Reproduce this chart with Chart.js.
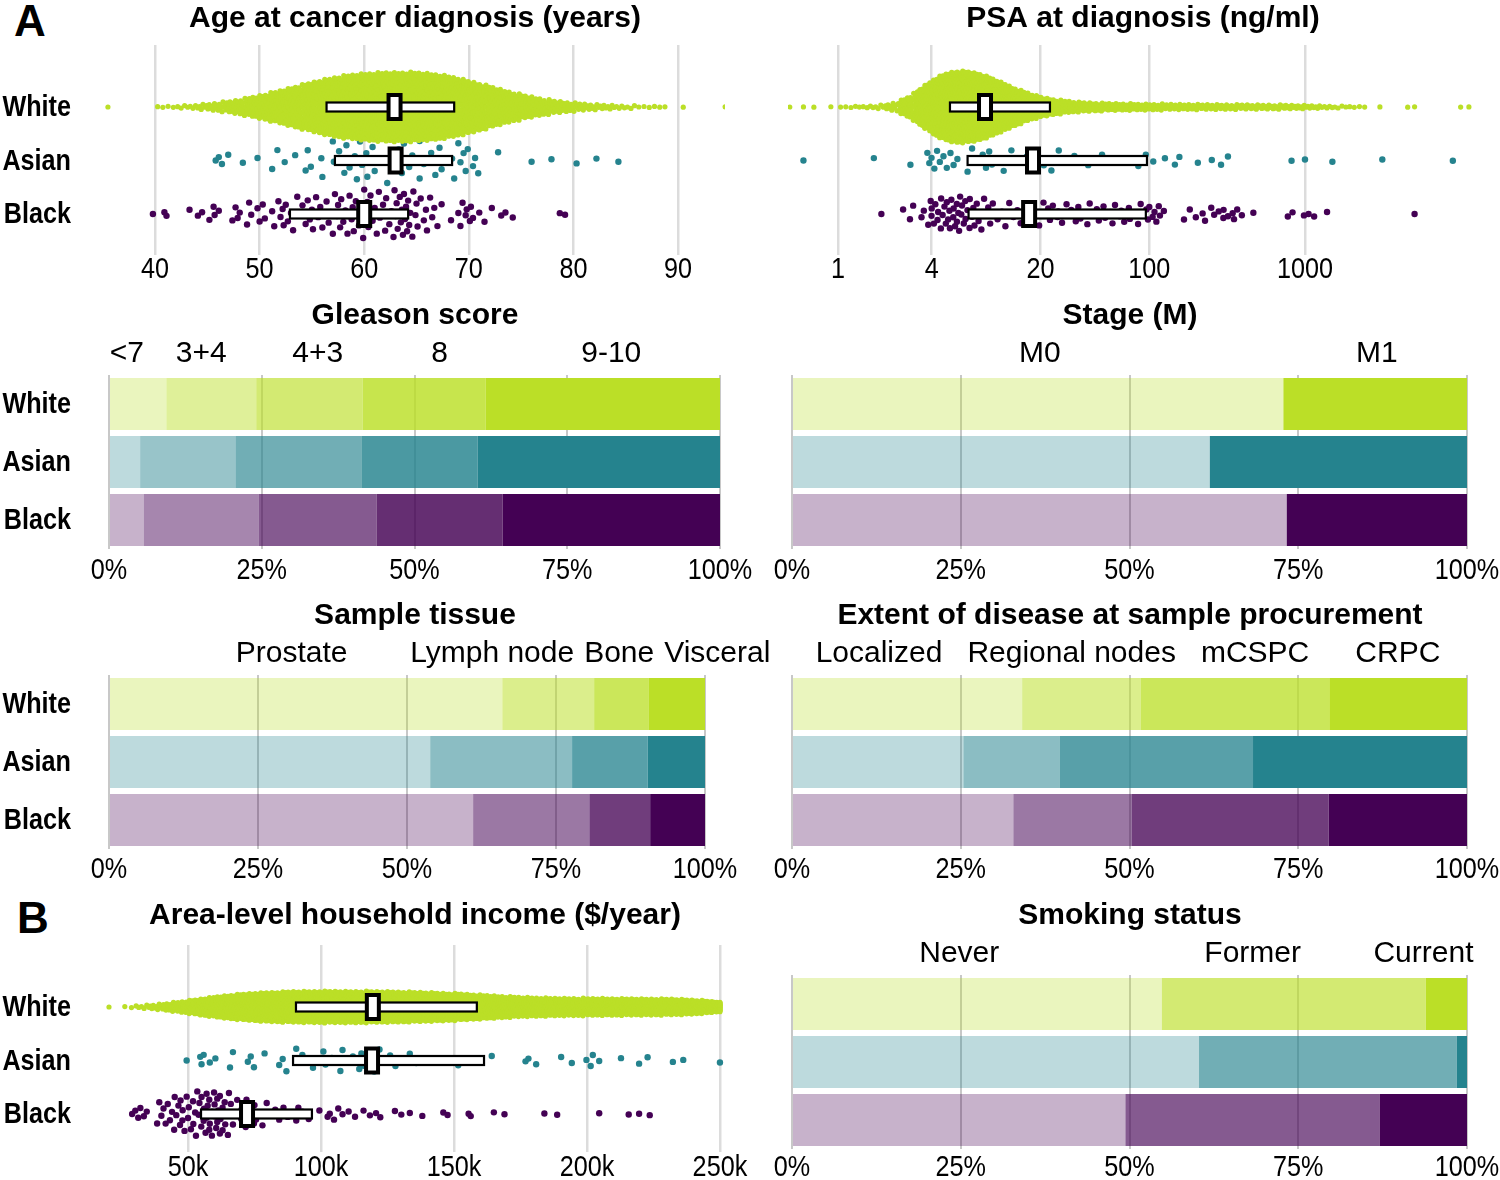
<!DOCTYPE html>
<html>
<head>
<meta charset="utf-8">
<script src="https://cdn.jsdelivr.net/npm/chart.js@4.4.1/dist/chart.umd.min.js"></script>
<style>
  body { margin: 0; background: #fff; }
  #page { position: relative; width: 1500px; height: 1180px; overflow: hidden; background: #fff; }
  canvas { position: absolute; }
  .tag { position: absolute; font-family: "Liberation Sans", Arial, sans-serif; font-weight: bold; font-size: 44px; line-height: 1; }
</style>
</head>
<body>
<div id="page">
  <div class="tag" style="left:14px;top:-1px">A</div>
  <div class="tag" style="left:17px;top:896px">B</div>
  <canvas id="age"></canvas>
  <canvas id="psa"></canvas>
  <canvas id="gleason"></canvas>
  <canvas id="stage"></canvas>
  <canvas id="tissue"></canvas>
  <canvas id="extent"></canvas>
  <canvas id="income"></canvas>
  <canvas id="smoking"></canvas>
</div>
<script>
const groups = ["White", "Asian", "Black"];
const groupColors = [[187, 223, 39], [37, 131, 142], [68, 1, 84]];

// ---- age at diagnosis (years) ----
const ageTicks = [40, 50, 60, 70, 80, 90];
const ageWhiteStart = 35, ageWhiteStep = 1; // counts per 1-year bin, 35..94
const ageWhiteCounts = [1, 0, 0, 0, 0, 2, 2, 3, 4, 6, 8, 11, 15, 19, 24, 30, 36, 42, 48, 55,
  62, 68, 72, 76, 78, 80, 81, 82, 82, 82, 81, 79, 76, 72, 66, 59, 52, 45, 38, 32,
  26, 21, 17, 14, 11, 9, 7, 6, 5, 4, 3, 2, 2, 2, 0, 1, 0, 0, 0, 1];
const ageAsian = [45.8, 46.1, 46.4, 47.0, 48.4, 49.8, 51.2, 51.7, 52.4, 53.4, 54.4, 54.6, 54.9, 55.9, 56.0,
  57.0, 57.1, 57.6, 58.1, 58.3, 58.6, 59.1, 59.3, 59.6, 59.8, 60.2, 60.3, 60.8, 61.0, 61.5, 62.2, 62.8,
  63.0, 63.3, 63.6, 63.8, 64.3, 64.6, 65.3, 65.3, 65.7, 66.4, 66.8, 67.2, 67.4, 68.4, 68.6, 69.0, 69.2,
  69.5, 69.7, 69.9, 70.4, 70.6, 70.9, 72.8, 76.0, 77.9, 80.3, 82.2, 84.3];
const ageBlack = [39.8, 40.9, 41.1, 43.3, 44.1, 44.5, 45.2, 45.6, 45.7, 46.1, 47.4, 47.7, 47.9, 48.1, 48.8,
  49.0, 49.2, 49.8, 50.0, 50.3, 50.5, 51.2, 51.4, 51.8, 52.0, 52.2, 52.3, 52.5, 52.7, 53.0, 53.2, 53.6,
  53.9, 54.1, 54.4, 54.6, 54.8, 55.0, 55.1, 55.4, 55.6, 55.8, 56.0, 56.4, 56.6, 56.8, 57.0, 57.2, 57.4,
  57.5, 57.7, 57.8, 58.0, 58.2, 58.4, 58.6, 58.8, 58.9, 59.0, 59.2, 59.5, 59.7, 59.9, 60.0, 60.1, 60.3,
  60.4, 60.6, 60.8, 61.0, 61.2, 61.4, 61.5, 61.8, 62.0, 62.1, 62.4, 62.6, 62.8, 62.9, 63.0, 63.1, 63.2,
  63.4, 63.5, 63.6, 63.7, 63.8, 63.9, 64.0, 64.1, 64.2, 64.3, 64.4, 64.6, 64.7, 64.9, 65.0, 65.1, 65.4,
  65.7, 65.9, 66.0, 66.3, 66.5, 66.7, 67.0, 67.4, 68.3, 69.0, 69.2, 69.4, 69.7, 69.8, 70.1, 70.2, 70.4,
  71.0, 71.5, 72.2, 73.1, 73.5, 74.2, 78.7, 79.2];
const ageQ1 = [56.4, 57.2, 52.9];
const ageMedian = [62.9, 63.0, 60.0];
const ageQ3 = [68.6, 68.4, 64.2];

// ---- PSA at diagnosis (ng/ml) ----
const psaTicks = [1, 4, 20, 100, 1000];
const psaWhiteLogStart = 0, psaWhiteLogStep = 0.1; // counts per 0.1 log10 bin, 1..2500
const psaWhiteCounts = [3, 4, 6, 12, 40, 100, 160, 180, 175, 155, 120, 85, 58, 40, 30, 24, 20, 18,
  17, 16, 15, 14, 14, 13, 13, 12, 12, 11, 11, 10, 8, 6, 4, 3];
const psaWhiteOutliers = [0.49, 0.60, 0.70, 0.90, 3030, 4570, 5060, 10000, 11300];
const psaAsian = [0.60, 1.70, 2.92, 3.75, 3.86, 3.99, 4.16, 4.33, 4.51, 4.76, 5.00, 5.28, 5.53, 5.85,
  6.80, 7.27, 7.68, 8.51, 8.93, 9.36, 9.75, 10.2, 11.6, 13.0, 15.4, 16.3, 18.0, 19.2, 21.0, 22.4, 23.5,
  26.2, 28.0, 33.0, 40.5, 49.7, 58.2, 70.0, 85.0, 95.0, 106, 126, 146, 156, 205, 252, 289, 320, 820,
  1000, 1500, 3140, 8910];
const psaBlack = [1.90, 2.62, 2.90, 3.04, 3.44, 3.56, 3.80, 3.94, 3.99, 4.0, 4.13, 4.22, 4.36, 4.4,
  4.58, 4.6, 4.70, 4.83, 4.93, 5.0, 5.10, 5.2, 5.24, 5.35, 5.5, 5.53, 5.65, 5.8, 5.81, 5.93, 6.0, 6.09,
  6.2, 6.26, 6.43, 6.57, 6.6, 6.79, 7.0, 7.03, 7.27, 7.4, 7.53, 7.79, 8.0, 8.06, 8.34, 8.68, 8.8, 9.23,
  9.5, 9.88, 10.6, 11.3, 11.9, 12.6, 13.4, 14.2, 14.9, 15.9, 17.1, 18.3, 19.6, 20.9, 21, 22.4, 23, 24.0,
  25.7, 26, 27.5, 29.4, 30, 31.5, 33.7, 35, 36.1, 38.7, 40, 41.4, 44.3, 46, 47.4, 50.8, 52, 56.3, 58,
  60.2, 64.5, 66, 69.0, 73.9, 75, 79.1, 84.7, 88, 90.6, 95.7, 98, 100, 105, 108, 111, 115, 117, 124,
  167, 182, 199, 220, 228, 250, 261, 279, 299, 300, 320, 343, 350, 367, 393, 466, 776, 832, 985, 1055,
  1145, 1386, 5060];
const psaQ1 = [5.24, 6.8, 6.9];
const psaMedian = [8.8, 17.9, 16.9];
const psaQ3 = [23.0, 96.6, 95.0];

// ---- area-level household income ($k/year) ----
const incomeTicks = [50, 100, 150, 200, 250];
const incomeWhiteStart = 15, incomeWhiteStep = 5; // counts per 5k bin, 15k..250k
const incomeWhiteCounts = [0, 0, 2, 5, 9, 16, 26, 38, 50, 60, 68, 72, 76, 78, 80, 81, 82, 82, 82, 82,
  81, 80, 79, 78, 76, 74, 72, 70, 66, 60, 54, 50, 48, 46, 46, 45, 45, 44, 44, 44, 43, 43, 42, 42, 42,
  42, 44];
const incomeWhiteOutliers = [20.3, 250, 250, 250, 250, 250, 250, 250, 250, 250, 250, 250, 250, 250,
  250, 250, 250];
const incomeAsian = [49.5, 54.6, 55.1, 55.9, 58.2, 60.3, 65.8, 66.9, 72.5, 73.6, 74.8, 78.8, 84.3, 85.6,
  87.0, 90.7, 91.1, 93.0, 97.0, 100.9, 101.7, 104.1, 107.3, 108.1, 110.0, 112.0, 114.4, 115.2, 116.0,
  118.0, 120.0, 122.0, 123.9, 126.0, 128.0, 133.4, 135.8, 142.6, 151.6, 164.2, 176.9, 178.0, 180.9,
  190.3, 194.3, 199.8, 201.4, 202.2, 204.6, 212.8, 219.6, 222.8, 232.3, 236.2, 250.0];
const incomeBlack = [29.0, 30.2, 31.3, 32.1, 33.4, 34.5, 38.4, 39.2, 40.0, 40.8, 41.6, 42.4, 43.2, 44.0,
  44.8, 45, 45.6, 46.4, 47, 47.2, 47.9, 48, 48.7, 49.5, 50, 50.3, 51.1, 51.9, 52, 52.7, 53, 53.5, 54,
  54.3, 55, 55.1, 55.9, 56, 56.6, 57, 57, 57.4, 58, 58, 58.2, 59, 59, 59.8, 60, 60, 60.6, 61, 61, 61.4,
  62, 62, 62.2, 63, 63, 63.8, 64, 64.6, 65, 65.4, 66, 66.1, 66.9, 68.5, 70, 70.1, 71.7, 72, 73.3, 74.1,
  74.8, 75, 75.6, 76.4, 78.0, 79.6, 81.2, 82.8, 84.3, 85.9, 87.5, 89.1, 90.7, 91.5, 92.2, 93.0, 95.4,
  99.4, 102.5, 103.3, 104.9, 106.5, 108.1, 110.4, 112.8, 116.0, 118.4, 120.7, 122.3, 127.8, 130.2,
  133.4, 138.1, 146.0, 147.6, 155.5, 156.3, 165.0, 169.0, 184.0, 188.8, 204.6, 215.7, 219.6, 223.6];
const incomeQ1 = [90.6, 89.5, 54.9];
const incomeMedian = [119.5, 119.2, 72.2];
const incomeQ3 = [158.6, 161.3, 96.6];

// ---- stacked proportions (%) ----
const pctTicks = [0, 25, 50, 75, 100];
const gleasonLevels = ["<7", "3+4", "4+3", "8", "9-10"];
const gleasonWhite = [9.4, 14.7, 17.4, 20.1, 38.4];
const gleasonAsian = [5.1, 15.6, 20.7, 18.9, 39.7];
const gleasonBlack = [5.7, 18.8, 19.3, 20.6, 35.6];
const stageLevels = ["M0", "M1"];
const stageWhite = [72.8, 27.2];
const stageAsian = [61.9, 38.1];
const stageBlack = [73.3, 26.7];
const tissueLevels = ["Prostate", "Lymph node", "Bone", "Visceral"];
const tissueWhite = [66.0, 15.4, 9.1, 9.5];
const tissueAsian = [53.9, 23.8, 12.7, 9.6];
const tissueBlack = [61.1, 19.5, 10.2, 9.2];
const extentLevels = ["Localized", "Regional nodes", "mCSPC", "CRPC"];
const extentWhite = [34.1, 17.6, 27.9, 20.4];
const extentAsian = [25.4, 14.3, 28.6, 31.7];
const extentBlack = [32.8, 17.5, 29.2, 20.5];
const smokingLevels = ["Never", "Former", "Current"];
const smokingWhite = [54.8, 39.1, 6.1];
const smokingAsian = [60.3, 38.2, 1.5];
const smokingBlack = [49.4, 37.7, 12.9];

const FONT = '"Liberation Sans", Arial, sans-serif';
Chart.defaults.font.family = FONT;
Chart.defaults.color = "#000";
const ROW_GAP = 53.5;
const SQUEEZE = 0.84; // condensed look of axis text

// spread a read histogram back into individual values
function expandHist(start, step, counts, extra, useLog) {
  const out = [];
  counts.forEach((n, i) => {
    for (let k = 0; k < n; k++) {
      const v = start + step * (i + (k + 0.5) / n);
      out.push(useLog ? Math.pow(10, v) : v);
    }
  });
  return out.concat(extra);
}

function vdc(n) {
  let q = 0, bk = 0.5;
  while (n > 0) { q += (n & 1) * bk; n >>= 1; bk /= 2; }
  return q;
}

// quasirandom (van der Corput x density) vertical offsets in [-1, 1]
function swarmOffsets(values, useLog) {
  const xs = values.map(v => useLog ? Math.log10(v) : v);
  const n = xs.length;
  const sorted = xs.slice().sort((a, b) => a - b);
  const mean = xs.reduce((s, v) => s + v, 0) / n;
  const sd = Math.sqrt(xs.reduce((s, v) => s + (v - mean) * (v - mean), 0) / (n - 1));
  const iqr = sorted[Math.floor(0.75 * (n - 1))] - sorted[Math.floor(0.25 * (n - 1))];
  const bw = 0.9 * Math.min(sd, iqr / 1.34 || sd) * Math.pow(n, -0.2);
  const lo = sorted[0] - 3 * bw, hi = sorted[n - 1] + 3 * bw, G = 256;
  const dens = new Float64Array(G);
  for (let g = 0; g < G; g++) {
    const gx = lo + (hi - lo) * g / (G - 1);
    let s = 0;
    for (let i = 0; i < n; i++) { const z = (gx - xs[i]) / bw; s += Math.exp(-0.5 * z * z); }
    dens[g] = s;
  }
  let maxD = 0;
  for (let g = 0; g < G; g++) maxD = Math.max(maxD, dens[g]);
  const order = xs.map((x, i) => i).sort((a, b) => xs[a] - xs[b]);
  const offs = new Array(n);
  order.forEach((idx, r) => {
    const gp = (xs[idx] - lo) / (hi - lo) * (G - 1);
    const g0 = Math.floor(gp), f = gp - g0;
    const d = dens[g0] * (1 - f) + dens[Math.min(g0 + 1, G - 1)] * f;
    offs[idx] = (vdc(r + 1) * 2 - 1) * d / maxD;
  });
  return offs;
}

// push overlapping labels apart (least-squares block merging)
function repel(items, gap) {
  const blocks = [];
  items.forEach(it => {
    blocks.push({ list: [{ it, rel: it.w / 2 }], width: it.w, start: it.c - it.w / 2 });
    while (blocks.length > 1) {
      const cur = blocks[blocks.length - 1], prev = blocks[blocks.length - 2];
      if (prev.start + prev.width + gap <= cur.start) break;
      const shift = prev.width + gap;
      cur.list.forEach(e => { e.rel += shift; });
      prev.list = prev.list.concat(cur.list);
      prev.width = shift + cur.width;
      prev.start = prev.list.reduce((s, e) => s + e.it.c - e.rel, 0) / prev.list.length;
      blocks.pop();
    }
  });
  blocks.forEach(b => b.list.forEach(e => { e.it.pos = b.start + e.rel; }));
}

function squeezedText(ctx, text, x, y) {
  ctx.save();
  ctx.translate(x, y);
  ctx.scale(SQUEEZE, 1);
  ctx.fillText(text, 0, 0);
  ctx.restore();
}

function decorPlugin(o) {
  return {
    id: "decor",
    afterDraw(chart) {
      const ctx = chart.ctx;
      const { x, y } = chart.scales;
      ctx.save();
      ctx.fillStyle = "#000";
      ctx.textAlign = "center";
      ctx.textBaseline = "middle";
      ctx.font = "bold 30px " + FONT;
      ctx.fillText(o.title, o.titleX - o.left, o.titleY);
      if (o.levels) {
        ctx.font = "30px " + FONT;
        const items = o.levels.map((t, k) => {
          const el = chart.getDatasetMeta(k).data[2].getProps(["x", "base"], true);
          return { text: t, c: (el.x + el.base) / 2, w: ctx.measureText(t).width };
        });
        repel(items, o.gap);
        items.forEach(it => ctx.fillText(it.text, it.pos, o.levelY));
      }
      // x tick labels
      ctx.font = "30px " + FONT;
      x.ticks.forEach(t => squeezedText(ctx, o.tickLabel(t.value), x.getPixelForValue(t.value), o.tickY));
      if (o.rowLabels) {
        ctx.font = "bold 30px " + FONT;
        ctx.textAlign = "right";
        groups.forEach((g, i) => squeezedText(ctx, g, 71, y.getPixelForValue(i) + 1));
      }
      ctx.restore();
    }
  };
}

function boxPlugin(q1, med, q3) {
  return {
    id: "boxes",
    afterDatasetsDraw(chart) {
      const { ctx, scales: { x, y } } = chart;
      ctx.save();
      ctx.strokeStyle = "#000";
      ctx.fillStyle = "#fff";
      groups.forEach((g, i) => {
        const yc = y.getPixelForValue(i);
        const a = x.getPixelForValue(q1[i]), b = x.getPixelForValue(q3[i]);
        const m = x.getPixelForValue(med[i]);
        ctx.lineWidth = 2.2;
        ctx.fillRect(a, yc - 4.5, b - a, 9);
        ctx.strokeRect(a, yc - 4.5, b - a, 9);
        ctx.lineWidth = 4;
        ctx.fillRect(m - 6, yc - 12, 12, 24);
        ctx.strokeRect(m - 6, yc - 12, 12, 24);
      });
      ctx.restore();
    }
  };
}

function placeCanvas(id, o) {
  const c = document.getElementById(id);
  c.width = o.W; c.height = o.H;
  c.style.left = o.left + "px"; c.style.top = o.top + "px";
  return c.getContext("2d");
}

function xAxis(o, extra) {
  return Object.assign({
    border: { display: false },
    ticks: { display: false },
    afterFit: s => { s.height = o.H - o.area.bottom; }
  }, extra);
}

function swarmChart(id, o) {
  const ctx = placeCanvas(id, o);
  const a = o.area;
  const datasets = o.series.map((vals, g) => {
    const offs = swarmOffsets(vals, o.log);
    return {
      data: vals.map((v, i) => ({ x: v, y: g + offs[i] * o.spread[g] / ROW_GAP })),
      pointRadius: o.radius[g],
      pointHoverRadius: o.radius[g],
      pointBackgroundColor: "rgb(" + groupColors[g] + ")",
      pointBorderWidth: 0
    };
  });
  new Chart(ctx, {
    type: "scatter",
    data: { datasets },
    options: {
      responsive: false, animation: false, devicePixelRatio: 1, events: [],
      layout: { padding: { left: a.left, top: a.top, right: o.W - a.right, bottom: 0 } },
      plugins: { legend: { display: false }, tooltip: { enabled: false } },
      scales: {
        x: xAxis(o, {
          type: o.log ? "logarithmic" : "linear",
          min: o.min, max: o.max,
          grid: { color: "#dcdcdc", lineWidth: 2.5, drawTicks: false },
          afterBuildTicks: s => { s.ticks = o.ticks.map(v => ({ value: v })); }
        }),
        y: {
          type: "linear", reverse: true, display: false,
          min: (a.top - o.rowY) / ROW_GAP, max: (a.bottom - o.rowY) / ROW_GAP
        }
      }
    },
    plugins: [decorPlugin(o), boxPlugin(o.q1, o.med, o.q3)]
  });
}

function stackChart(id, o) {
  const ctx = placeCanvas(id, o);
  const a = o.area;
  const n = o.levels.length;
  const datasets = o.levels.map((lvl, k) => {
    const alpha = 0.3 + 0.7 * k / (n - 1);
    return {
      label: lvl,
      data: o.series.map(s => s[k]),
      backgroundColor: groupColors.map(c => "rgba(" + c + "," + alpha + ")"),
      borderWidth: 0,
      barPercentage: 52 / 58,
      categoryPercentage: 1
    };
  });
  o.tickLabel = v => v + "%";
  new Chart(ctx, {
    type: "bar",
    data: { labels: groups, datasets },
    options: {
      indexAxis: "y",
      responsive: false, animation: false, devicePixelRatio: 1, events: [],
      layout: { padding: { left: a.left, top: a.top, right: o.W - a.right, bottom: 0 } },
      plugins: { legend: { display: false }, tooltip: { enabled: false } },
      scales: {
        x: xAxis(o, {
          stacked: true, min: 0, max: 100,
          grid: { color: "#c8c8c8", lineWidth: 2, drawTicks: false },
          afterBuildTicks: s => { s.ticks = pctTicks.map(v => ({ value: v })); }
        }),
        y: { stacked: true, display: false }
      }
    },
    plugins: [decorPlugin(o)]
  });
}

const ageWhite = expandHist(ageWhiteStart, ageWhiteStep, ageWhiteCounts, [], false);
const psaWhite = expandHist(psaWhiteLogStart, psaWhiteLogStep, psaWhiteCounts, psaWhiteOutliers, true);
const incomeWhite = expandHist(incomeWhiteStart, incomeWhiteStep, incomeWhiteCounts, incomeWhiteOutliers, false);

swarmChart("age", {
  left: 0, top: 0, W: 790, H: 295, area: { left: 105, top: 45, right: 725, bottom: 255 }, rowY: 107,
  series: [ageWhite, ageAsian, ageBlack], q1: ageQ1, med: ageMedian, q3: ageQ3,
  ticks: ageTicks, tickLabel: v => String(v), min: 35.22, max: 94.49, log: false,
  spread: [35, 24, 26], radius: [2.6, 3.2, 3.2], rowLabels: true, tickY: 270,
  title: "Age at cancer diagnosis (years)", titleX: 415, titleY: 19
});

swarmChart("psa", {
  left: 760, top: 0, W: 760, H: 295, area: { left: 28, top: 45, right: 738, bottom: 255 }, rowY: 107,
  series: [psaWhite, psaAsian, psaBlack], q1: psaQ1, med: psaMedian, q3: psaQ3,
  ticks: psaTicks, tickLabel: v => String(v), min: 0.4774, max: 17378, log: true,
  spread: [36, 13, 18], radius: [2.6, 3.2, 3.2], rowLabels: false, tickY: 270,
  title: "PSA at diagnosis (ng/ml)", titleX: 1143, titleY: 19
});

stackChart("gleason", {
  left: 0, top: 300, W: 790, H: 290, area: { left: 109, top: 75, right: 720, bottom: 249 },
  levels: gleasonLevels, series: [gleasonWhite, gleasonAsian, gleasonBlack], rowLabels: true, tickY: 271,
  title: "Gleason score", titleX: 415, titleY: 16, levelY: 54, gap: 10
});

stackChart("stage", {
  left: 760, top: 300, W: 760, H: 290, area: { left: 32, top: 75, right: 707, bottom: 249 },
  levels: stageLevels, series: [stageWhite, stageAsian, stageBlack], rowLabels: false, tickY: 271,
  title: "Stage (M)", titleX: 1130, titleY: 16, levelY: 54, gap: 10
});

stackChart("tissue", {
  left: 0, top: 600, W: 790, H: 290, area: { left: 109, top: 75, right: 705, bottom: 249 },
  levels: tissueLevels, series: [tissueWhite, tissueAsian, tissueBlack], rowLabels: true, tickY: 270,
  title: "Sample tissue", titleX: 415, titleY: 16, levelY: 54, gap: 10
});

stackChart("extent", {
  left: 760, top: 600, W: 760, H: 290, area: { left: 32, top: 75, right: 707, bottom: 249 },
  levels: extentLevels, series: [extentWhite, extentAsian, extentBlack], rowLabels: false, tickY: 270,
  title: "Extent of disease at sample procurement", titleX: 1130, titleY: 16, levelY: 54, gap: 25
});

swarmChart("income", {
  left: 0, top: 880, W: 790, H: 300, area: { left: 105, top: 65, right: 725, bottom: 272 }, rowY: 127,
  series: [incomeWhite, incomeAsian, incomeBlack], q1: incomeQ1, med: incomeMedian, q3: incomeQ3,
  ticks: incomeTicks, tickLabel: v => v + "k", min: 18.8, max: 251.9, log: false,
  spread: [16, 13, 24], radius: [2.6, 3.2, 3.2], rowLabels: true, tickY: 288,
  title: "Area-level household income ($/year)", titleX: 415, titleY: 36
});

stackChart("smoking", {
  left: 760, top: 880, W: 760, H: 300, area: { left: 32, top: 95, right: 707, bottom: 269 },
  levels: smokingLevels, series: [smokingWhite, smokingAsian, smokingBlack], rowLabels: false, tickY: 288,
  title: "Smoking status", titleX: 1130, titleY: 36, levelY: 74, gap: 10
});
</script>
</body>
</html>
